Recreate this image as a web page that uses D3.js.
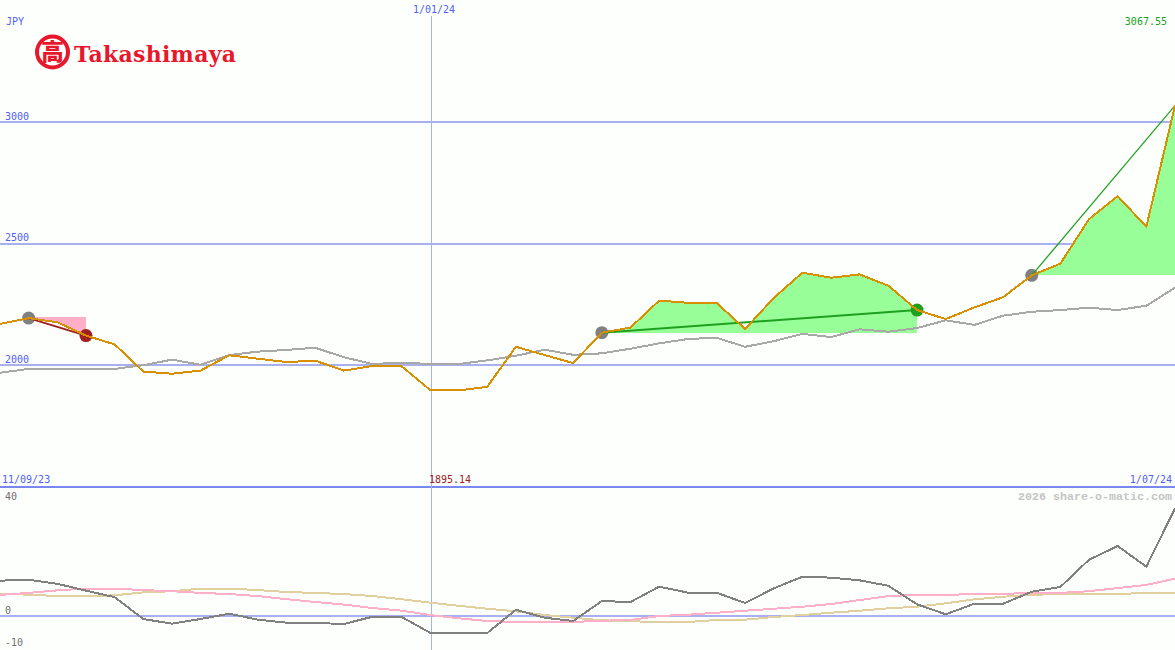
<!DOCTYPE html>
<html><head><meta charset="utf-8">
<script src="https://cdn.jsdelivr.net/npm/d3@7"></script>
<style>
html,body{margin:0;padding:0;background:#fdfffd;overflow:hidden}
svg{display:block}
text{font-family:"DejaVu Sans Mono","Liberation Mono",monospace;font-size:10px}
</style></head><body>
<svg id="c" width="1175" height="650"></svg>
<script>
const price=[2169,2193,2176,2121,2085,1973,1964,1977,2040,2026,2012,2018,1977,1996,1996,1898,1895.14,1910,2075,2041,2008,2133,2154,2265,2256,2256,2148,2276,2380,2359,2373,2326,2226,2189,2237,2279,2369,2417,2600,2695,2569,3067.55];
const average=[1968,1984,1984,1984,1984,1999,2022,2001,2041,2055,2062,2071,2032,2004,2010,2004,2004,2019,2038,2063,2042,2048,2067,2089,2107,2112,2075,2098,2128,2115,2147,2137,2152,2184,2165,2203,2219,2226,2236,2226,2244,2318];
const oscillator=[12.4,12.7,11.3,8.9,6.6,-1.05,-2.7,-1.05,0.8,-1.3,-2.35,-2.45,-2.8,-0.25,-0.25,-5.85,-6,-6,2.2,-0.6,-1.75,5.25,4.9,10.3,8.2,8.2,4.55,9.7,13.8,13.45,12.5,10.6,4.1,0.6,4.3,4.3,8.5,10.2,19.75,24.55,17.3,37.8];
const signalPink=[7.4,8.1,9.0,9.6,9.6,9.1,8.7,8.1,7.7,7.0,5.9,4.9,4.0,2.8,1.9,0.35,-0.8,-1.75,-2.1,-2.1,-2.1,-1.65,-1.4,0,0.45,1.15,1.85,2.55,3.25,4.2,5.6,7,7.4,7.4,7.7,7.7,8.2,8.1,8.7,9.8,10.9,13.1];
const signalTan=[7.7,7.5,7,7,7.25,8.3,8.7,9.6,9.6,9.1,8.4,8.1,7.7,7,5.9,4.7,3.6,2.55,1.65,0.35,-0.6,-1.5,-1.85,-2.1,-2.1,-1.4,-1.3,-0.35,0.35,1.15,1.85,2.7,3.25,4.45,5.85,6.75,7.5,7.6,7.7,7.7,8.1,8.1];
const priceTicks=[3000,2500,2000];
const oscTicks=[40,0,-10];
const trades=[
 {from:1,to:3,base:2197,kind:"loss",w:2},
 {from:21,to:32,base:2133,kind:"win",w:2},
 {from:36,to:41,base:2369,kind:"win",w:1.3}
];
const crossIndex=15;
const dateLabels={start:"11/09/23",cross:"1/01/24",end:"1/07/24"};
const currency="JPY", maxLabel="3067.55", minLabel="1895.14", credit="2026 share-o-matic.com", brand="Takashimaya";

const W=1175,H=650;
const col={grid:"#a8b0f0",rule:"#7888f0",txt:"#5060f8",orange:"#d89000",gray:"#a8a8a8",dark:"#808080",pink:"#ffb0c8",tan:"#e0d0a0",
 winFill:"#98ff98",lossFill:"#ffb0c8",win:"#20a020",loss:"#a02020",entry:"#808080",logo:"#e8182c"};
const x=d3.scaleLinear().domain([0,price.length-1]).range([0,W]);
const y=d3.scaleLinear().domain([2000,3000]).range([365,122]);
const yo=d3.scaleLinear().domain([0,40]).range([616,502]);
const svg=d3.select("#c");

// gridlines + tick labels through d3 axes
const ga=svg.append("g").call(d3.axisRight(y).offset(0).tickValues(priceTicks).tickSize(W).tickFormat(d3.format("d")));
ga.select(".domain").remove();
ga.selectAll("line").attr("stroke",col.grid).attr("stroke-width",2).attr("shape-rendering","crispEdges");
ga.selectAll("text").attr("x",5).attr("dy",-2.5).attr("text-anchor","start").attr("fill",col.txt);

const go=svg.append("g").call(d3.axisRight(yo).offset(0).tickValues(oscTicks).tickSize(W).tickFormat(d3.format("d")));
go.select(".domain").remove();
go.selectAll("line").attr("stroke",d=>d===0?col.grid:"none").attr("stroke-width",2).attr("shape-rendering","crispEdges");
go.selectAll("text").attr("x",5).attr("dy",d=>d===-10?1:-2.5).attr("text-anchor","start").attr("fill","#707070")
  .text(d=>d3.format("d")(d).replace("−","-"));

// separator and date marker
svg.append("line").attr("x1",0).attr("x2",W).attr("y1",487).attr("y2",487).attr("stroke",col.rule).attr("stroke-width",2).attr("shape-rendering","crispEdges");
svg.append("line").attr("x1",x(crossIndex)+1.5).attr("x2",x(crossIndex)+1.5).attr("y1",16).attr("y2",H).attr("stroke",col.grid).attr("stroke-width",1).attr("shape-rendering","crispEdges");

// trade areas
const idx=d3.range(price.length);
trades.forEach(t=>{
  const a=d3.area().x(i=>x(i)).y0(y(t.base)).y1(i=>y(price[i]));
  svg.append("path").datum(idx.slice(t.from,t.to+1)).attr("d",a)
    .attr("fill",t.kind==="win"?col.winFill:col.lossFill).attr("shape-rendering","crispEdges");
});

// average
const ln=(arr,sc)=>d3.line().x((d,i)=>x(i)).y(d=>sc(d))(arr);
svg.append("path").attr("d",ln(average,y)).attr("fill","none").attr("stroke",col.gray).attr("stroke-width",2).attr("shape-rendering","crispEdges");

// trade dots + lines
trades.forEach(t=>{
  const c=t.kind==="win"?col.win:col.loss;
  svg.append("circle").attr("cx",x(t.from)).attr("cy",y(price[t.from])).attr("r",6.5).attr("fill",col.entry);
  if(t.to<price.length-1) svg.append("circle").attr("cx",x(t.to)).attr("cy",y(price[t.to])).attr("r",6.5).attr("fill",c);
});
trades.forEach(t=>{
  const c=t.kind==="win"?col.win:col.loss;
  svg.append("line").attr("x1",x(t.from)).attr("y1",y(price[t.from])).attr("x2",x(t.to)).attr("y2",y(price[t.to]))
    .attr("stroke",c).attr("stroke-width",t.w);
});
svg.append("path").attr("d",ln(price,y)).attr("fill","none").attr("stroke",col.orange).attr("stroke-width",2).attr("shape-rendering","crispEdges");

// lower panel
[[signalTan,col.tan],[signalPink,col.pink],[oscillator,col.dark]].forEach(([a,c])=>{
  svg.append("path").attr("d",ln(a,yo)).attr("fill","none").attr("stroke",c).attr("stroke-width",2).attr("shape-rendering","crispEdges");
});

// labels
const T=(s,px,py,fill,anchor)=>svg.append("text").attr("x",px).attr("y",py).attr("fill",fill).attr("text-anchor",anchor||"start").text(s);
T(currency,6,25,col.txt);
T(dateLabels.cross,x(crossIndex)-17,13,col.txt);
T(maxLabel,1167,25,"#20a020","end");
T(dateLabels.start,2,483,col.txt);
T(minLabel,x(crossIndex)-1,483,col.loss);
T(dateLabels.end,1172,483,col.txt,"end");
T(credit,1172,500,"#c4c4c4","end").style("font-family",'"Liberation Mono",monospace').style("font-size","11.67px").style("font-weight","bold");

// logo
const logo=svg.append("g");
logo.append("circle").attr("cx",52.5).attr("cy",52).attr("r",15.5).attr("fill","#fff").attr("stroke",col.logo).attr("stroke-width",4);
logo.append("text").attr("x",52.5).attr("y",60).attr("text-anchor","middle").attr("fill",col.logo)
  .style("font-family",'"Noto Sans CJK JP"').style("font-size","23px").style("font-weight","900").text("高");
logo.append("text").attr("x",74).attr("y",62).attr("fill",col.logo)
  .style("font-family",'"DejaVu Serif"').style("font-size","22px").style("font-weight","bold").attr("textLength",162).attr("lengthAdjust","spacing").text(brand);
</script>
</body></html>
